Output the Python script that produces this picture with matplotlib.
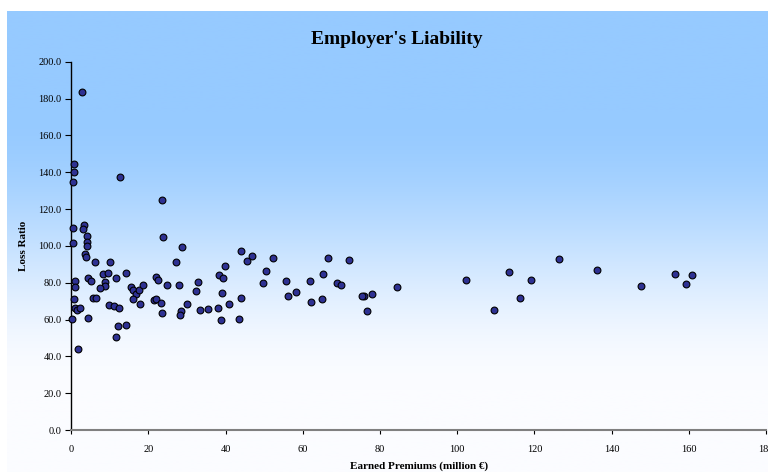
import numpy as np
import matplotlib
matplotlib.use("Agg")
import matplotlib.pyplot as plt
from matplotlib.ticker import FormatStrFormatter

# Earned premiums (million EUR) and loss ratio
premiums = [
    0.36, 0.36, 0.78, 0.62, 0.44, 2.85, 12.6, 23.5, 3.37, 3.03,
    4.07, 3.99, 4.15, 3.55, 3.81, 6.22, 9.95, 0.88, 0.96, 0.62,
    0.88, 1.55, 2.33, 0.26, 1.66, 4.33, 5.03, 5.54, 6.48, 4.33,
    8.29, 9.43, 8.81, 8.81, 7.36, 11.58, 14.17, 9.77, 10.98, 12.44,
    12.1, 14.17, 11.5, 15.54, 15.98, 16.68, 17.54, 18.58, 15.9, 17.8,
    21.9, 22.5, 21.4, 21.9, 23.7, 28.6, 27.2, 44.0, 46.9, 45.4,
    39.7, 50.4, 24.7, 27.9, 32.9, 32.4, 38.3, 39.3, 39.0, 49.7,
    23.3, 23.5, 30.05, 28.5, 28.2, 33.3, 35.3, 37.9, 40.8, 43.9,
    38.9, 43.4, 52.3, 55.6, 56.1, 58.1, 61.9, 62.0, 65.3, 66.6,
    65.0, 68.9, 69.9, 72.0, 75.8, 75.4, 77.8, 76.5, 84.4, 102.2,
    109.4, 113.5, 116.3, 119.0, 126.3, 136.2, 147.6, 156.3, 159.2, 160.9,
]
loss_ratio = [
    109.9, 101.7, 144.6, 139.9, 134.5, 183.4, 137.2, 124.7, 111.3, 109.0,
    105.5, 101.9, 99.8, 95.4, 93.8, 91.4, 91.1, 80.9, 77.5, 71.1,
    66.4, 65.2, 66.3, 60.1, 43.8, 82.4, 80.9, 71.5, 71.5, 60.7,
    84.7, 85.1, 80.5, 78.0, 76.9, 82.4, 85.3, 68.0, 67.3, 66.1,
    56.5, 57.2, 50.7, 77.8, 75.9, 74.0, 75.9, 78.7, 71.0, 68.6,
    82.9, 81.3, 70.8, 71.1, 104.8, 99.4, 91.1, 97.0, 94.7, 91.8,
    89.1, 86.2, 78.7, 78.7, 80.2, 75.5, 84.0, 82.5, 74.4, 79.7,
    69.1, 63.4, 68.4, 64.8, 62.6, 65.3, 65.7, 66.3, 68.6, 71.7,
    59.9, 60.4, 93.6, 80.7, 72.6, 74.8, 80.7, 69.7, 84.9, 93.4,
    71.0, 79.8, 78.7, 92.5, 72.8, 72.5, 74.0, 64.5, 77.5, 81.5,
    65.2, 86.0, 71.7, 81.6, 92.7, 86.7, 78.0, 84.5, 79.1, 84.0,
]

title = "Employer's Liability"
xlabel = "Earned Premiums (million €)"
ylabel = "Loss Ratio"

W, H = 768, 472
fig = plt.figure(figsize=(W / 100, H / 100), dpi=100, facecolor="white")

# blue-to-white gradient background of the chart area
bg = fig.add_axes([7 / W, 0, 1 - 7 / W, 1 - 11 / H], zorder=0)
t = np.linspace(0, 1, 400).reshape(-1, 1)
t = np.clip((t - 0.22) / (0.82 - 0.22), 0, 1)
t = t * t * (3 - 2 * t)
top = np.array([150, 202, 255]) / 255
bot = np.array([251, 252, 255]) / 255
img = top[None, None, :] * (1 - t[:, :, None]) + bot[None, None, :] * t[:, :, None]
bg.imshow(img, aspect="auto", extent=[0, 1, 0, 1])
bg.axis("off")

ax = fig.add_axes([71.3 / W, 1 - 430 / H, (766 - 71.3) / W, (430 - 61.7) / H], zorder=1)
ax.patch.set_alpha(0)

ax.scatter(premiums, loss_ratio, s=24, c="#2e3192", edgecolors="black",
           linewidths=0.8, zorder=3, clip_on=False)

ax.set_xlim(0, 180)
ax.set_ylim(0, 200)
ax.set_xticks(np.arange(0, 181, 20))
ax.set_yticks(np.arange(0, 201, 20))
ax.yaxis.set_major_formatter(FormatStrFormatter("%.1f"))

serif = ["Liberation Serif", "DejaVu Serif"]
for lab in ax.get_xticklabels() + ax.get_yticklabels():
    lab.set_family(serif)
    lab.set_fontsize(7.5)

ax.spines["top"].set_visible(False)
ax.spines["right"].set_visible(False)
ax.spines["left"].set_color("black")
ax.spines["left"].set_linewidth(1.0)
ax.spines["bottom"].set_color("#808080")
ax.spines["bottom"].set_linewidth(1.5)
ax.tick_params(axis="y", direction="out", length=4, width=0.8, pad=3, colors="black")
ax.tick_params(axis="x", direction="out", length=3, width=0.8, pad=8, colors="black")

ax.set_xlabel(xlabel, family=serif, fontweight="bold", fontsize=8)
ax.xaxis.set_label_coords(0.5, -0.085)
ax.set_ylabel(ylabel, family=serif, fontweight="bold", fontsize=8)
ax.yaxis.set_label_coords(-0.063, 0.5)

fig.text(397 / W, 1 - 40 / H, title, family=serif, fontweight="bold",
         fontsize=14, ha="center", va="center")

fig.savefig("out.png", dpi=100, facecolor="white")
